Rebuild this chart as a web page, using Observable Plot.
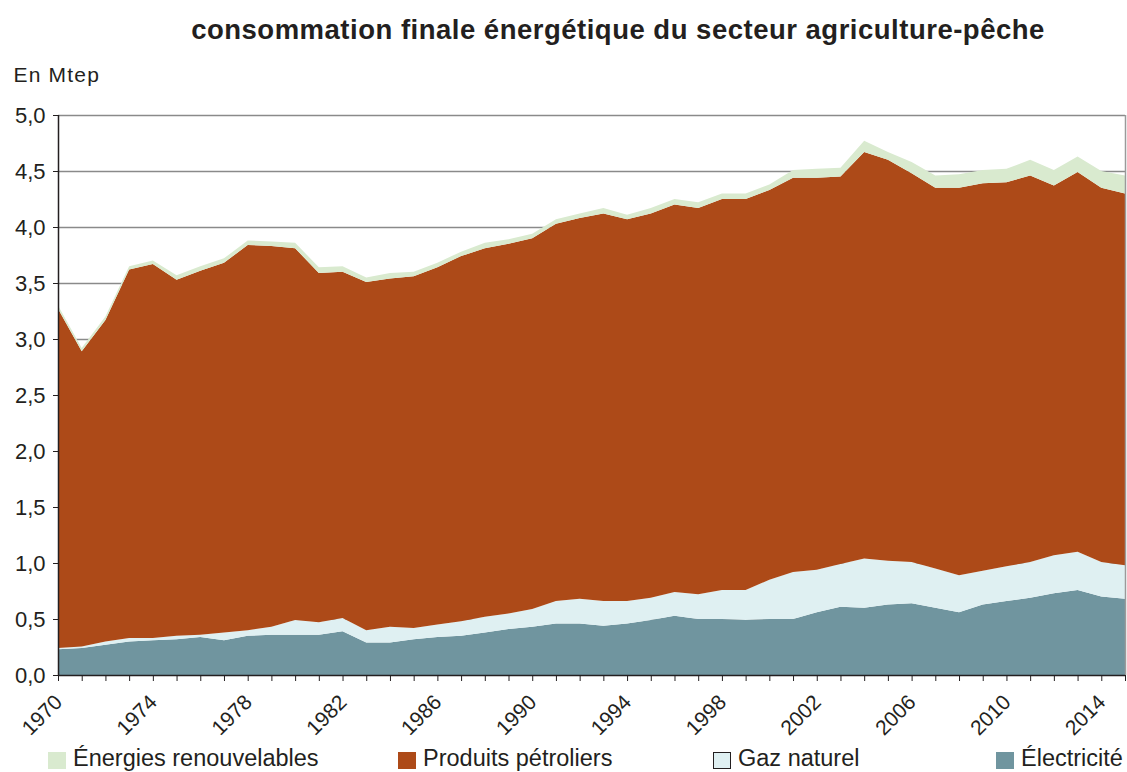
<!DOCTYPE html>
<html>
<head>
<meta charset="utf-8">
<script src="https://cdn.jsdelivr.net/npm/d3@7"></script>
<script src="https://cdn.jsdelivr.net/npm/@observablehq/plot@0.6"></script>
<style>
  body { margin: 0; background: #fff; font-family: "Liberation Sans", Arial, sans-serif; color: #231f20; }
  #wrap { position: relative; width: 1127px; height: 772px; overflow: hidden; }
  #legend { position: absolute; top: 745px; left: 0; width: 1127px; height: 27px; font-size: 23.5px; line-height: 27px; }
  .item { position: absolute; top: 0; white-space: nowrap; }
  .sw { position: absolute; left: 0; top: 7px; width: 18px; height: 17px; box-sizing: border-box; }
  .lab { position: absolute; left: 25px; top: 0; }
</style>
</head>
<body>
<div id="wrap"><div id="chart"></div><div id="legend"></div></div>
<script>
const titleText = "consommation finale énergétique du secteur agriculture-pêche";
const unitText = "En Mtep";

const years = [1970,1971,1972,1973,1974,1975,1976,1977,1978,1979,
               1980,1981,1982,1983,1984,1985,1986,1987,1988,1989,
               1990,1991,1992,1993,1994,1995,1996,1997,1998,1999,
               2000,2001,2002,2003,2004,2005,2006,2007,2008,2009,
               2010,2011,2012,2013,2014,2015];

const electricite = [0.23,0.24,0.27,0.30,0.31,0.32,0.34,0.31,0.35,0.36,
                     0.36,0.36,0.39,0.29,0.29,0.32,0.34,0.35,0.38,0.41,
                     0.43,0.46,0.46,0.44,0.46,0.49,0.53,0.50,0.50,0.49,
                     0.50,0.50,0.56,0.61,0.60,0.63,0.64,0.60,0.56,0.63,
                     0.66,0.69,0.73,0.76,0.70,0.68];

const gazNaturel = [0.01,0.015,0.03,0.03,0.02,0.03,0.02,0.07,0.05,0.07,
                    0.13,0.11,0.12,0.11,0.14,0.10,0.11,0.13,0.14,0.14,
                    0.16,0.20,0.22,0.22,0.20,0.20,0.21,0.22,0.26,0.27,
                    0.35,0.42,0.38,0.38,0.44,0.39,0.37,0.35,0.33,0.30,
                    0.31,0.32,0.34,0.34,0.31,0.30];

const produitsPetroliers = [3.03,2.635,2.87,3.29,3.34,3.18,3.25,3.30,3.44,3.40,
                            3.32,3.12,3.09,3.11,3.11,3.14,3.19,3.26,3.29,3.30,
                            3.31,3.37,3.40,3.46,3.41,3.43,3.46,3.45,3.49,3.49,
                            3.48,3.52,3.50,3.46,3.63,3.58,3.47,3.40,3.46,3.46,
                            3.43,3.45,3.30,3.39,3.34,3.32];

const energiesRenouvelables = [0.03,0.03,0.03,0.03,0.03,0.04,0.04,0.04,0.04,0.04,
                               0.05,0.05,0.05,0.04,0.05,0.04,0.04,0.04,0.05,0.04,
                               0.04,0.04,0.04,0.05,0.04,0.05,0.05,0.05,0.05,0.05,
                               0.05,0.07,0.08,0.08,0.10,0.07,0.10,0.11,0.12,0.12,
                               0.12,0.14,0.14,0.14,0.15,0.16];

// stacking order, bottom first
const stackOrder = ["Électricité", "Gaz naturel", "Produits pétroliers", "Énergies renouvelables"];
const seriesColors = ["#70959f", "#dff0f2", "#ad4a18", "#d9eacf"];

// legend order (left to right)
const legendOrder = ["Énergies renouvelables", "Produits pétroliers", "Gaz naturel", "Électricité"];
const legendLeft = [48, 398, 713, 996];

const yTicks = [0, 0.5, 1, 1.5, 2, 2.5, 3, 3.5, 4, 4.5, 5];
const labelYears = [1970, 1974, 1978, 1982, 1986, 1990, 1994, 1998, 2002, 2006, 2010, 2014];

const seriesValues = {
  "Électricité": electricite,
  "Gaz naturel": gazNaturel,
  "Produits pétroliers": produitsPetroliers,
  "Énergies renouvelables": energiesRenouvelables
};
const rows = years.flatMap((year, i) =>
  stackOrder.map(series => ({year, series, value: seriesValues[series][i]})));

const ink = "#231f20";
const font = '"Liberation Sans", Arial, sans-serif';

const chart = Plot.plot({
  width: 1127,
  height: 745,
  marginTop: 115,
  marginBottom: 70,
  marginLeft: 58,
  marginRight: 2,
  style: {fontFamily: font, color: ink, background: "white", overflow: "visible"},
  x: {domain: [1970, 2015]},
  y: {domain: [0, 5]},
  color: {domain: stackOrder, range: seriesColors},
  marks: [
    Plot.ruleY(yTicks.filter(d => d > 0), {stroke: "#8a8a8a", strokeWidth: 1.5}),
    Plot.areaY(rows, {x: "year", y: "value", fill: "series", order: stackOrder}),
    Plot.ruleX([2015], {stroke: "#9a9a9a", strokeWidth: 1.5}),
    Plot.ruleX([1970], {stroke: ink, strokeWidth: 1.5}),
    Plot.ruleY([0], {stroke: ink, strokeWidth: 1.5}),
    Plot.axisY(yTicks, {tickSize: 5, tickPadding: 8, fontSize: 22, label: null,
      tickFormat: d => d.toFixed(1).replace(".", ",")}),
    Plot.axisX(years, {tickSize: 6, tickFormat: () => "", label: null}),
    Plot.text(labelYears, {x: d => d, text: d => String(d), frameAnchor: "bottom", rotate: -45,
      textAnchor: "end", lineAnchor: "bottom", dx: 5, dy: 28, fontSize: 21, fill: ink}),
    Plot.text([titleText], {frameAnchor: "top", dx: 26, dy: -77, lineAnchor: "bottom",
      fontSize: 27.5, fontWeight: "bold", fill: ink}),
    Plot.text([unitText], {frameAnchor: "top-left", textAnchor: "start", lineAnchor: "bottom",
      dx: -45, dy: -34, fontSize: 21, fill: ink})
  ]
});
document.getElementById("chart").appendChild(chart);

d3.select(chart).selectAll("text")
  .filter(function() { return this.textContent === titleText; })
  .style("letter-spacing", "0.5px");
d3.select(chart).selectAll("text")
  .filter(function() { return this.textContent === unitText; })
  .style("letter-spacing", "1.2px");

const legend = document.getElementById("legend");
legendOrder.forEach((name, i) => {
  const item = document.createElement("div");
  item.className = "item";
  item.style.left = legendLeft[i] + "px";
  const sw = document.createElement("span");
  sw.className = "sw";
  sw.style.background = seriesColors[stackOrder.indexOf(name)];
  if (name === "Gaz naturel") sw.style.border = "1.5px solid " + ink;
  const lab = document.createElement("span");
  lab.className = "lab";
  lab.textContent = name;
  item.appendChild(sw);
  item.appendChild(lab);
  legend.appendChild(item);
});
</script>
</body>
</html>
